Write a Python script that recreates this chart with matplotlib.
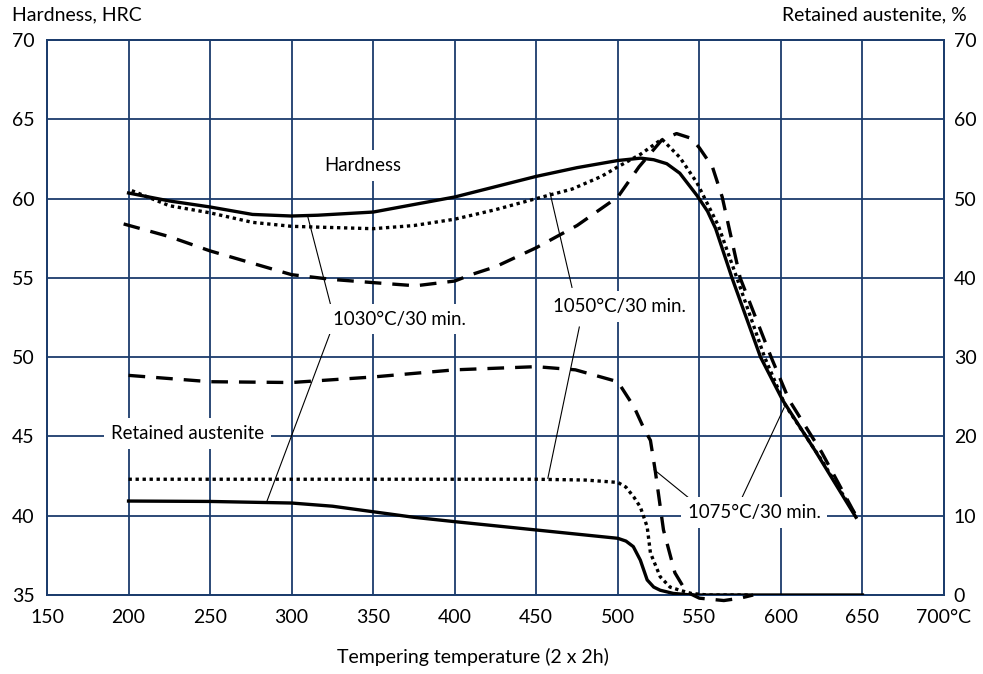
import matplotlib
matplotlib.use("Agg")
import matplotlib.pyplot as plt

plt.rcParams['font.family'] = ['Lato', 'DejaVu Sans']

# ---------------- data ----------------
# Hardness (HRC, left axis)
t_h1030 = [200, 225, 250, 276, 300, 316, 350, 400, 425, 450, 475, 500, 514, 522, 530, 538, 548.5, 555, 560, 570, 587.5, 601, 621, 646]
h_1030 = [60.35, 59.85, 59.47, 59.0, 58.9, 58.95, 59.15, 60.1, 60.75, 61.4, 61.95, 62.4, 62.55, 62.45, 62.2, 61.6, 60.2, 59.2, 58.1, 55.0, 50.0, 47.3, 44.1, 39.9]

t_h1050 = [202, 225, 250, 276, 300, 316, 350, 375, 400, 425, 450, 472, 490, 500, 514, 527, 538, 548.5, 561.6, 573, 590, 602.5, 625, 646]
h_1050 = [60.5, 59.55, 59.1, 58.5, 58.25, 58.2, 58.1, 58.3, 58.7, 59.3, 60.0, 60.6, 61.4, 62.0, 62.8, 63.75, 62.6, 61.0, 58.3, 55.0, 50.0, 47.0, 43.5, 40.0]

t_h1075 = [197, 225, 250, 275, 300, 325, 350, 376, 400, 410, 425, 450, 475, 500, 513, 527, 536, 545, 550, 558, 564, 575, 594, 605, 625, 646]
h_1075 = [58.4, 57.6, 56.7, 55.95, 55.2, 54.9, 54.7, 54.5, 54.8, 55.2, 55.7, 56.9, 58.3, 60.1, 62.0, 63.7, 64.1, 63.8, 63.2, 62.0, 60.1, 55.0, 50.0, 47.3, 44.0, 40.0]

# Retained austenite (%, right axis)
t_r1030 = [200, 250, 300, 325, 350, 375, 400, 450, 500, 505, 509.5, 513.8, 518, 522, 526, 534, 545, 650]
r_1030 = [11.85, 11.8, 11.6, 11.2, 10.5, 9.8, 9.25, 8.2, 7.15, 6.8, 6.1, 4.4, 1.9, 1.0, 0.6, 0.2, 0.0, 0.0]

t_r1050 = [200, 300, 400, 450, 480, 500, 505, 510, 513.8, 518, 520, 526, 532, 538, 545, 555, 580]
r_1050 = [14.6, 14.6, 14.6, 14.6, 14.5, 14.2, 13.6, 12.3, 11.1, 8.6, 5.3, 2.3, 1.0, 0.6, 0.2, 0.0, 0.0]

t_r1075 = [200, 250, 300, 350, 400, 450, 474, 500, 510, 516, 520, 523, 528, 535, 542, 550, 565, 575, 583]
r_1075 = [27.7, 26.9, 26.8, 27.5, 28.4, 28.8, 28.4, 26.9, 23.7, 21.0, 19.5, 15.6, 8.2, 2.8, 0.4, -0.4, -0.7, -0.4, 0.0]

x_ticks = [150, 200, 250, 300, 350, 400, 450, 500, 550, 600, 650, 700]
x_ticklabels = ['150', '200', '250', '300', '350', '400', '450', '500', '550', '600', '650', '700°C']
y_left_ticks = [35, 40, 45, 50, 55, 60, 65, 70]
y_right_ticks = [0, 10, 20, 30, 40, 50, 60, 70]

# ---------------- figure ----------------
grid_c = '#1b3c6c'
fs = 14
fs_lab = 13.4

fig = plt.figure(figsize=(9.83, 6.74), dpi=100)
ax = fig.add_axes([47/983, 79/674, 897/983, 555/674])
ax.set_xlim(150, 700)
ax.set_ylim(35, 70)
ax2 = ax.twinx()
ax2.set_ylim(0, 70)

ax.set_xticks(x_ticks)
ax.set_xticklabels(x_ticklabels)
ax.set_yticks(y_left_ticks)
ax2.set_yticks(y_right_ticks)

for a in (ax, ax2):
    for s in a.spines.values():
        s.set_color(grid_c)
        s.set_linewidth(1.3)
ax.tick_params(axis='both', length=0, labelsize=fs, colors='black')
ax.tick_params(axis='y', pad=9)
ax.tick_params(axis='x', pad=10)
ax2.tick_params(axis='y', length=0, labelsize=fs, pad=7)

# grid
ax.grid(True, color=grid_c, linewidth=1.3, zorder=0)
ax.set_axisbelow(True)

lw = 2.4
kw_dot = dict(color='black', lw=lw, linestyle=(0, (1, 1.1)))
kw_dash = dict(color='black', lw=lw, linestyle=(0, (5, 3.3)))
kw_solid = dict(color='black', lw=lw, linestyle='-')

ax.plot(t_h1030, h_1030, **kw_solid, zorder=3)
ax.plot(t_h1050, h_1050, **kw_dot, zorder=3)
ax.plot(t_h1075, h_1075, **kw_dash, zorder=3)

ax2.plot(t_r1030, r_1030, **kw_solid, zorder=3)
ax2.plot(t_r1050, r_1050, **kw_dot, zorder=3)
ax2.plot(t_r1075, r_1075, **kw_dash, zorder=3, clip_on=False)

# leader lines
ll = dict(color='black', lw=0.8, zorder=4)
ax2.plot([309.8, 323.9], [2*(58.9-35), 2*(53.3-35)], **ll)
ax2.plot([323.9, 284.7], [2*(51.6-35), 2*(40.87-35)], **ll)
ax2.plot([458.4, 471.9], [2*(60.37-35), 2*(54.4-35)], **ll)
ax2.plot([476.4, 457.1], [2*(51.9-35), 2*(42.36-35)], **ll)
ax2.plot([522.3, 543.8], [2*(42.9-35), 2*(41.1-35)], **ll)
ax2.plot([576.4, 601.9], [2*(41.2-35), 2*(46.8-35)], **ll)

box = dict(facecolor='white', edgecolor='none', pad=5)
tk = dict(fontsize=fs_lab, ha='center', va='center', bbox=box, zorder=6)
ax2.text(343.5, 2*(62.1-35), 'Hardness', **tk)
ax2.text(236.3, 2*(45.2-35), 'Retained austenite', **tk)
ax2.text(366.2, 2*(52.4-35), '1030°C/30 min.', **tk)
ax2.text(500.9, 2*(53.2-35), '1050°C/30 min.', **tk)
ax2.text(583.6, 2*(40.2-35), '1075°C/30 min.', **tk)

fig.text(12/983, 1 - 15/674, 'Hardness, HRC', fontsize=fs, ha='left', va='center')
fig.text(967/983, 1 - 15/674, 'Retained austenite, %', fontsize=fs, ha='right', va='center')
fig.text(473/983, 1 - 657/674, 'Tempering temperature (2 x 2h)', fontsize=fs, ha='center', va='center')

fig.savefig('out.png', dpi=100)
